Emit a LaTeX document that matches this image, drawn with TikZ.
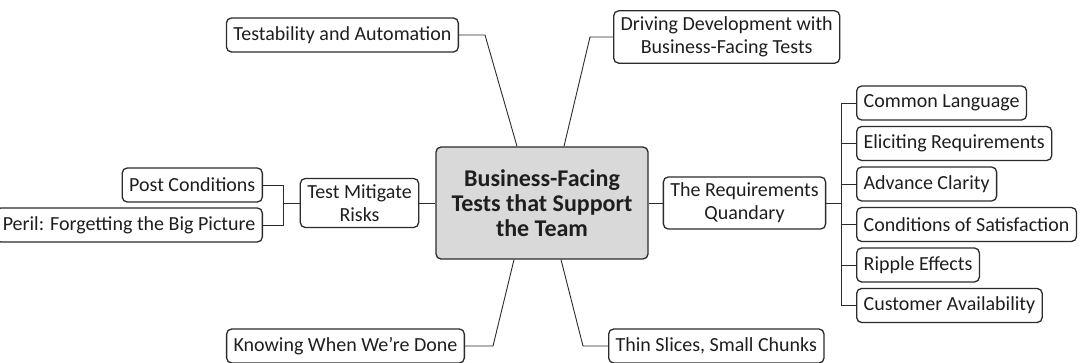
\documentclass[tikz,border=0pt]{standalone}
\usepackage{fontspec}
\setmainfont{Carlito}
\definecolor{boxline}{HTML}{2B2B2B}
\definecolor{corefill}{HTML}{D9D9D9}
\definecolor{inkgray}{HTML}{1E1E1E}
\begin{document}
\begin{tikzpicture}[x=1pt, y=-1pt,
    topic/.style={draw=boxline, line width=1.3pt, rounded corners=5pt, align=center,
      text=inkgray, inner xsep=7pt, inner ysep=6pt, minimum height=34pt,
      font=\fontsize{20}{23}\selectfont},
    core/.style={topic, fill=corefill, minimum width=212pt, minimum height=112pt,
      font=\fontsize{24}{25}\selectfont\bfseries},
    link/.style={draw=boxline, line width=0.9pt}]
      \useasboundingbox (0,0) rectangle (1080,363);
      \draw
        (542,203) node[core] (core){Business-Facing\\Tests that Support\\the Team}
        (744.5,203) node[topic] (quandary){The Requirements\\Quandary}
        (359.5,203) node[topic] (mitigate){Test Mitigate\\Risks}
        (459,35) node[topic, anchor=east] (testability){Testability and Automation}
        (613,37) node[topic, anchor=west] (driving){Driving Development with\\Business-Facing Tests}
        (465,346) node[topic, anchor=east] (knowing){Knowing When We’re Done}
        (608,346) node[topic, anchor=west] (thin){Thin Slices, Small Chunks}
        (263,185) node[topic, anchor=east] (post){Post Conditions}
        (263,225) node[topic, anchor=east] (peril){Peril: Forgetting the Big Picture}
        (856,103) node[topic, anchor=west] (language){Common Language}
        (856,143.5) node[topic, anchor=west] (eliciting){Eliciting Requirements}
        (856,184) node[topic, anchor=west] (clarity){Advance Clarity}
        (856,224.5) node[topic, anchor=west] (satisfaction){Conditions of Satisfaction}
        (856,265) node[topic, anchor=west] (ripple){Ripple Effects}
        (856,305.5) node[topic, anchor=west] (availability){Customer Availability};
      \coordinate (rqfork) at (841,203);
      \coordinate (tmfork) at (283,203);
      \begin{scope}[link]
        \draw (core.east) to (quandary.west);
        \draw (core.west) to (mitigate.east);
        \draw (testability.east) -- ++(26,0) -- ([xshift=-25pt]core.north);
        \draw (driving.west) -- ++(-23,0) -- ([xshift=22pt]core.north);
        \draw (knowing.east) -- ++(28,0) -- ([xshift=-28pt]core.south);
        \draw (thin.west) -- ++(-25,0) -- ([xshift=19pt]core.south);
        \draw (mitigate.west) -- (tmfork) |- (post.east);
        \draw (tmfork) |- (peril.east);
        \draw (quandary.east) -- (rqfork) |- (language.west);
        \draw (rqfork) |- (eliciting.west);
        \draw (rqfork) |- (clarity.west);
        \draw (rqfork) |- (satisfaction.west);
        \draw (rqfork) |- (ripple.west);
        \draw (rqfork) |- (availability.west);
      \end{scope}
    \end{tikzpicture}
\end{document}
